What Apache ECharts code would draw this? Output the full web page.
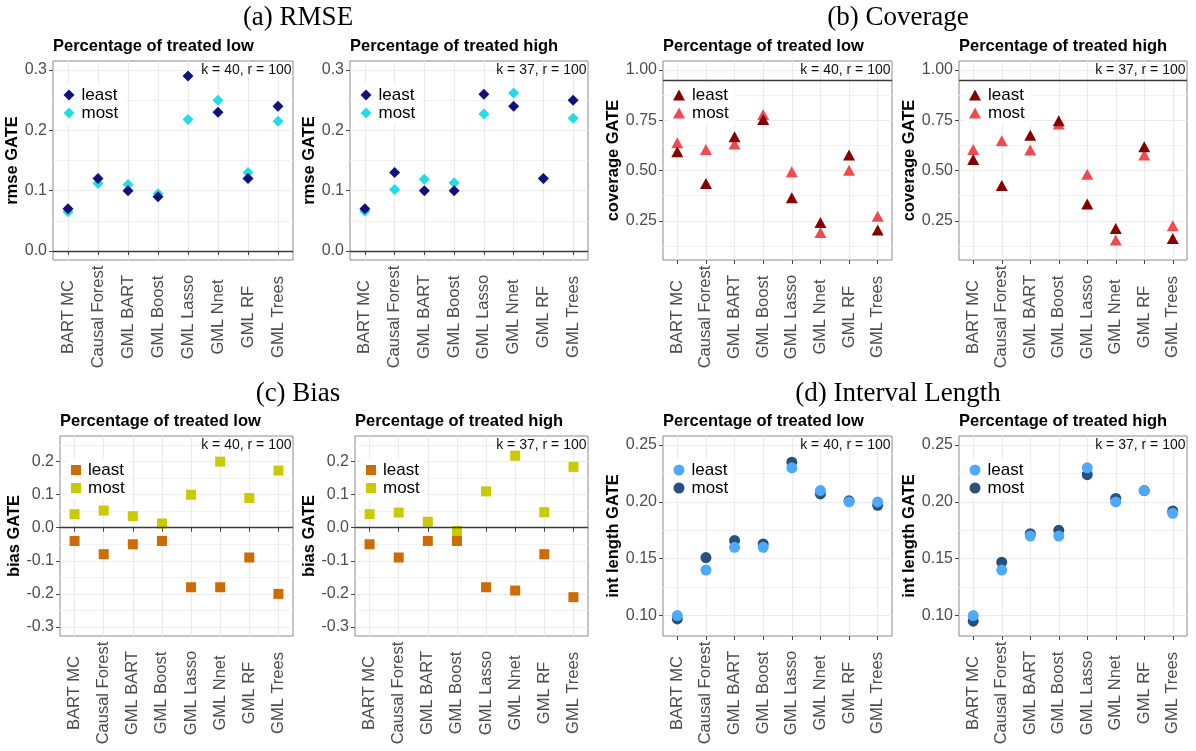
<!DOCTYPE html>
<html>
<head>
<meta charset="utf-8">
<script src="https://cdn.jsdelivr.net/npm/echarts@6/dist/echarts.min.js"></script>
<style>
  html, body { margin: 0; padding: 0; background: #fff; }
  #chart { width: 1196px; height: 751px; }
</style>
</head>
<body>
<div id="chart"></div>
<script>
// ---- data -------------------------------------------------------------
const methods = ['BART MC', 'Causal Forest', 'GML BART', 'GML Boost', 'GML Lasso', 'GML Nnet', 'GML RF', 'GML Trees'];
const groups = ['least', 'most'];

// RMSE of the GATE estimates
const rmseLowLeast  = [0.070, 0.120, 0.100, 0.090, 0.290, 0.230, 0.120, 0.240];
const rmseLowMost   = [0.065, 0.112, 0.110, 0.095, 0.218, 0.250, 0.130, 0.215];
const rmseHighLeast = [0.070, 0.130, 0.100, 0.100, 0.260, 0.240, 0.120, 0.250];
const rmseHighMost  = [0.066, 0.102, 0.119, 0.113, 0.227, 0.262, 0.120, 0.220];

// coverage of the GATE confidence intervals
const covLowLeast  = [0.594, 0.436, 0.668, 0.754, 0.365, 0.242, 0.577, 0.204];
const covLowMost   = [0.638, 0.605, 0.632, 0.779, 0.494, 0.192, 0.502, 0.273];
const covHighLeast = [0.555, 0.426, 0.676, 0.748, 0.333, 0.212, 0.618, 0.162];
const covHighMost  = [0.605, 0.648, 0.602, 0.731, 0.482, 0.154, 0.577, 0.225];

// bias of the GATE estimates
const biasLowLeast  = [-0.040, -0.080, -0.050, -0.040, -0.180, -0.180, -0.090, -0.200];
const biasLowMost   = [0.041, 0.052, 0.035, 0.013, 0.100, 0.200, 0.090, 0.173];
const biasHighLeast = [-0.050, -0.090, -0.040, -0.040, -0.180, -0.190, -0.080, -0.210];
const biasHighMost  = [0.041, 0.046, 0.018, -0.010, 0.110, 0.218, 0.047, 0.184];

// interval length
const lenLowLeast  = [0.100, 0.140, 0.160, 0.160, 0.230, 0.210, 0.200, 0.200];
const lenLowMost   = [0.097, 0.151, 0.166, 0.163, 0.235, 0.207, 0.201, 0.197];
const lenHighLeast = [0.100, 0.140, 0.170, 0.170, 0.230, 0.200, 0.210, 0.190];
const lenHighMost  = [0.095, 0.147, 0.172, 0.175, 0.224, 0.203, 0.210, 0.192];

// axis limits, tick labels and reference lines
const rmseLimits = [0, 0.3];
const covLimits  = [0.1, 1.0];
const biasLimits = [-0.3, 0.25];
const lenLimits  = [0.09, 0.25];
const rmseTicks = [0, 0.1, 0.2, 0.3];
const covTicks  = [0.25, 0.5, 0.75, 1.0];
const biasTicks = [-0.3, -0.2, -0.1, 0, 0.1, 0.2];
const lenTicks  = [0.10, 0.15, 0.20, 0.25];
const rmseRef = 0;
const covRef  = 0.95;
const biasRef = 0;

const sectionTitles = ['(a) RMSE', '(b) Coverage', '(c) Bias', '(d) Interval Length'];
const panelTitles = ['Percentage of treated low', 'Percentage of treated high'];
const panelNotes  = ['k = 40, r = 100', 'k = 37, r = 100'];

// ---- styling / layout --------------------------------------------------
const SANS  = '"Liberation Sans", Arial, Helvetica, sans-serif';
const SERIF = '"Liberation Serif", "Times New Roman", serif';

const metrics = [
  { id: 'rmse', yName: 'rmse GATE', limits: rmseLimits, ticks: rmseTicks, digits: 1, ref: rmseRef,
    symbol: 'diamond', size: [11, 11], colors: ['#10107f', '#24dce6'],
    series: [[rmseLowLeast, rmseLowMost], [rmseHighLeast, rmseHighMost]],
    boxes: [{ l: 53, r: 293, t: 61, b: 260, nameX: 14 }, { l: 350, r: 588, t: 61, b: 260, nameX: 313 }] },
  { id: 'cov', yName: 'coverage GATE', limits: covLimits, ticks: covTicks, digits: 2, ref: covRef,
    symbol: 'triangle', size: [12, 11], colors: ['#850000', '#ef4a51'],
    series: [[covLowLeast, covLowMost], [covHighLeast, covHighMost]],
    boxes: [{ l: 663, r: 892, t: 61, b: 260, nameX: 617 }, { l: 959, r: 1187, t: 61, b: 260, nameX: 912 }] },
  { id: 'bias', yName: 'bias GATE', limits: biasLimits, ticks: biasTicks, digits: 1, ref: biasRef,
    symbol: 'rect', size: [10, 10], colors: ['#cd6b05', '#c9cb00'],
    series: [[biasLowLeast, biasLowMost], [biasHighLeast, biasHighMost]],
    boxes: [{ l: 60, r: 293, t: 436, b: 636, nameX: 15 }, { l: 355, r: 588, t: 436, b: 636, nameX: 310 }] },
  { id: 'len', yName: 'int length GATE', limits: lenLimits, ticks: lenTicks, digits: 2, ref: null,
    symbol: 'circle', size: [11, 11], colors: ['#4ea8fb', '#28507b'],
    series: [[lenLowLeast, lenLowMost], [lenHighLeast, lenHighMost]],
    boxes: [{ l: 663, r: 892, t: 436, b: 636, nameX: 617 }, { l: 959, r: 1187, t: 436, b: 636, nameX: 912 }] }
];

// 5% expansion of the limits, like a ggplot continuous scale
function expand(lim) {
  const d = (lim[1] - lim[0]) * 0.05;
  return [lim[0] - d, lim[1] + d];
}
// minor gridlines halfway between the major breaks (extended one step each side)
function minorBreaks(ticks, range) {
  const step = ticks[1] - ticks[0];
  const ext = [ticks[0] - step].concat(ticks, [ticks[ticks.length - 1] + step]);
  const out = [];
  for (let i = 0; i < ext.length - 1; i++) {
    const m = (ext[i] + ext[i + 1]) / 2;
    if (m > range[0] && m < range[1]) out.push(+m.toFixed(6));
  }
  return out;
}

const grids = [], xAxes = [], yAxes = [], minorYAxes = [], series = [], legends = [];
const panels = [];

metrics.forEach(m => {
  const range = expand(m.limits);
  const minors = minorBreaks(m.ticks, range);
  [0, 1].forEach(k => {
    const p = panels.length;
    const box = m.boxes[k];
    panels.push({ metric: m, k, box, range });
    grids.push({
      left: box.l, top: box.t, width: box.r - box.l, height: box.b - box.t,
      show: true, borderColor: '#8a8a8a', borderWidth: 1, backgroundColor: '#fff',
      containLabel: false, outerBoundsMode: 'none'
    });
    xAxes.push({
      type: 'category', gridIndex: p, data: methods, boundaryGap: true,
      axisLine: { show: false },
      axisTick: { show: true, alignWithLabel: true, length: 4, lineStyle: { color: '#444', width: 1 } },
      splitLine: { show: true, alignWithLabel: true, lineStyle: { color: '#ebebeb', width: 1.2 } },
      axisLabel: {
        interval: 0, rotate: 90, margin: 57, align: 'center', verticalAlign: 'middle',
        fontFamily: SANS, fontSize: 16.5, color: '#4d4d4d'
      }
    });
    yAxes.push({
      type: 'value', gridIndex: p, min: range[0], max: range[1],
      axisLine: { show: false },
      axisTick: { show: true, length: 4, customValues: m.ticks, lineStyle: { color: '#444', width: 1 } },
      axisLabel: {
        customValues: m.ticks, margin: 6, fontFamily: SANS, fontSize: 16, color: '#4d4d4d',
        formatter: v => Number(v).toFixed(m.digits)
      },
      splitLine: { show: true, lineStyle: { color: '#ebebeb', width: 1.2 } },
      name: m.yName, nameLocation: 'middle', nameGap: box.l - box.nameX - 9,
      nameTextStyle: { fontFamily: SANS, fontSize: 16.5, fontWeight: 'bold', color: '#000' }
    });
    minorYAxes.push({
      type: 'value', gridIndex: p, min: range[0], max: range[1], position: 'left',
      axisLine: { show: false },
      axisTick: { show: false, customValues: minors },
      axisLabel: { show: false },
      splitLine: { show: true, lineStyle: { color: '#f3f3f3', width: 1 } }
    });

    // "most" first so that "least" is drawn on top
    const legendData = [];
    [1, 0].forEach(g => {
      const name = m.id + k + ':' + groups[g];
      const s = {
        type: 'scatter', name, xAxisIndex: p, yAxisIndex: p,
        data: m.series[k][g],
        symbol: m.symbol, symbolSize: m.size,
        itemStyle: { color: m.colors[g], opacity: 1 },
        emphasis: { disabled: true }, silent: true, z: 3
      };
      if (g === 1 && m.ref !== null) {
        s.markLine = {
          silent: true, symbol: ['none', 'none'], label: { show: false },
          lineStyle: { color: '#3a3a3a', width: 1.3, type: 'solid' },
          emphasis: { disabled: true }, animation: false,
          data: [{ yAxis: m.ref }]
        };
      }
      series.push(s);
    });
    groups.forEach(g => legendData.push({ name: m.id + k + ':' + g, icon: m.symbol }));

    const iconW = m.size[0], iconH = m.size[1];
    const padL = 4, padT = 3, rowH = 17;
    legends.push({
      data: legendData, orient: 'vertical', selectedMode: false,
      left: box.l + 16 - iconW / 2 - padL, top: box.t + 34 - rowH / 2 - padT,
      itemWidth: iconW, itemHeight: iconH, itemGap: 1,
      padding: [padT, 6, padT, padL], backgroundColor: '#fff',
      textStyle: { fontFamily: SANS, fontSize: 17, color: '#000', lineHeight: rowH, padding: [0, 0, 0, 2] },
      formatter: n => n.split(':')[1]
    });
  });
});

const chart = echarts.init(document.getElementById('chart'), null, { renderer: 'canvas' });
chart.setOption({
  animation: false,
  backgroundColor: '#fff',
  grid: grids,
  xAxis: xAxes,
  yAxis: yAxes.concat(minorYAxes.map((a, i) => Object.assign(a, { gridIndex: i }))),
  legend: legends,
  series: series
});

// titles and panel notes, positioned from the grids and axes
const graphics = [];
const sectionPos = [[298, 18], [898, 18], [298, 394], [898, 394]];
sectionTitles.forEach((t, i) => {
  graphics.push({
    type: 'text', x: sectionPos[i][0], y: sectionPos[i][1],
    style: { text: t, fontFamily: SERIF, fontSize: 27, fill: '#000', textAlign: 'center', textVerticalAlign: 'middle' }
  });
});
panels.forEach((pn, p) => {
  graphics.push({
    type: 'text', x: pn.box.l, y: pn.box.t - 15,
    style: { text: panelTitles[pn.k], fontFamily: SANS, fontSize: 16.5, fontWeight: 'bold', fill: '#000',
             textAlign: 'left', textVerticalAlign: 'middle' }
  });
  const yTop = chart.convertToPixel({ yAxisIndex: p }, pn.metric.limits[1]);
  graphics.push({
    type: 'text', x: pn.box.r - 1.5, y: yTop, z: 10,
    style: { text: panelNotes[pn.k], fontFamily: SANS, fontSize: 14, fill: '#111',
             textAlign: 'right', textVerticalAlign: 'middle' }
  });
});
chart.setOption({ graphic: graphics });
</script>
</body>
</html>
